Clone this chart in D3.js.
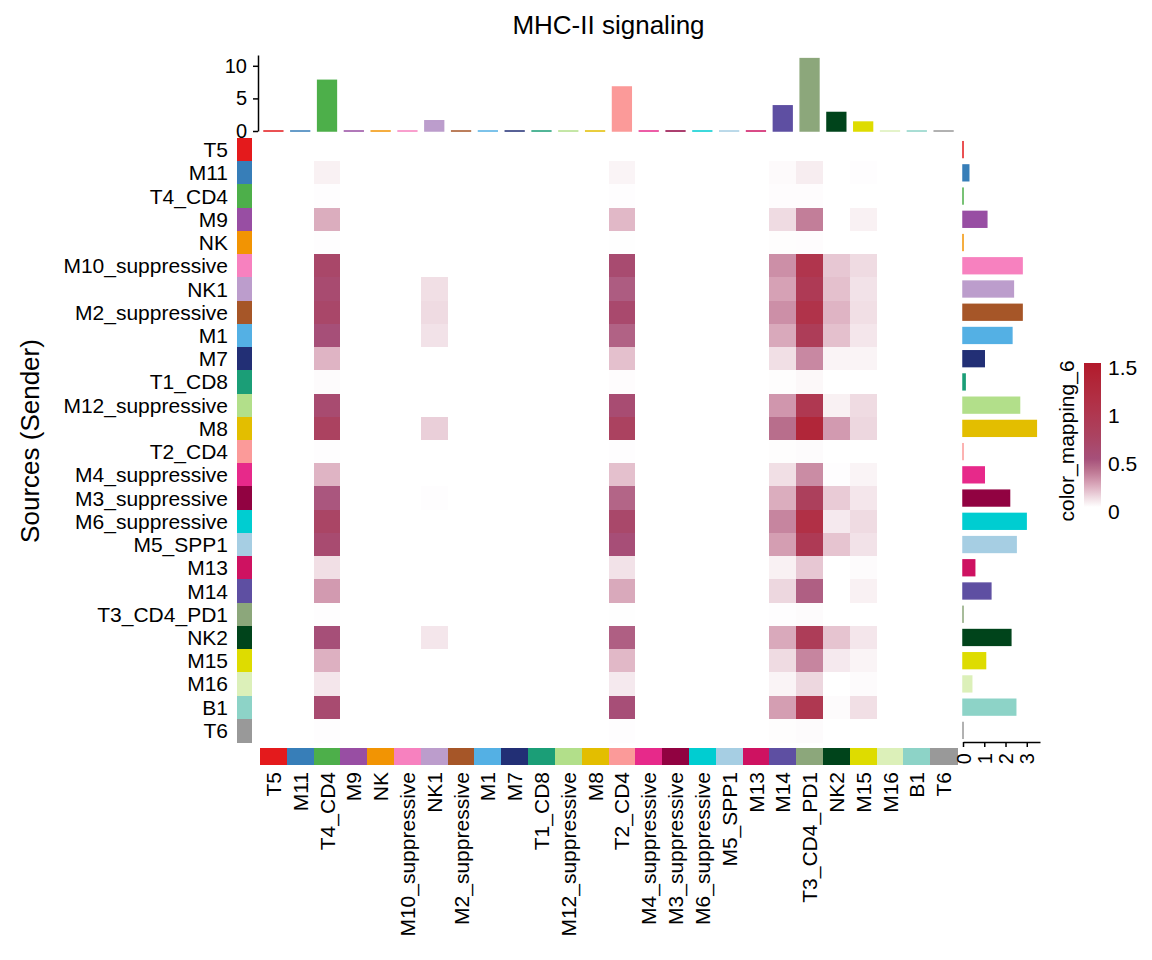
<!DOCTYPE html>
<html>
<head>
<meta charset="utf-8">
<script src="https://cdn.jsdelivr.net/npm/d3@7"></script>
<style>
  body { margin: 0; background: #fff; }
  text { font-family: "Liberation Sans", Arial, Helvetica, sans-serif; fill: #000; }
</style>
</head>
<body>
<div id="main"></div>
<script>
// cell groups, same order for senders (rows) and receivers (columns)
var cellTypes = ["T5", "M11", "T4_CD4", "M9", "NK", "M10_suppressive", "NK1", "M2_suppressive",
  "M1", "M7", "T1_CD8", "M12_suppressive", "M8", "T2_CD4", "M4_suppressive", "M3_suppressive",
  "M6_suppressive", "M5_SPP1", "M13", "M14", "T3_CD4_PD1", "NK2", "M15", "M16", "B1", "T6"];

var cellColors = ["#E41A1C", "#377EB8", "#4DAF4A", "#984EA3", "#F29403", "#F781BF", "#BC9DCC", "#A65628",
  "#54B0E4", "#222F75", "#1B9E77", "#B2DF8A", "#E3BE00", "#FB9A99", "#E7298A", "#910241",
  "#00CDD1", "#A6CEE3", "#CE1261", "#5E4FA2", "#8CA77B", "#00441B", "#DEDC00", "#DCF0B9", "#8DD3C7", "#999999"];

// only these receivers get any MHC-II signal, every other column is 0
var receivers = ["T4_CD4", "NK1", "T2_CD4", "M14", "T3_CD4_PD1", "NK2", "M15"];

// communication probability, one row per sender, columns follow `receivers`
var commProb = [
  [0, 0, 0, 0, 0, 0, 0],                              // T5
  [0.04, 0, 0.03, 0.015, 0.05, 0, 0.005],             // M11
  [0.005, 0, 0.005, 0.007, 0.008, 0, 0],              // T4_CD4
  [0.22, 0, 0.19, 0.10, 0.35, 0, 0.04],               // M9
  [0.005, 0, 0.004, 0.006, 0.008, 0, 0],              // NK
  [0.66, 0, 0.60, 0.30, 1.00, 0.15, 0.10],            // M10_suppressive
  [0.60, 0.09, 0.46, 0.25, 0.90, 0.17, 0.08],         // NK1
  [0.66, 0.10, 0.62, 0.30, 1.05, 0.20, 0.09],         // M2_suppressive
  [0.52, 0.08, 0.44, 0.23, 0.85, 0.17, 0.07],         // M1
  [0.20, 0, 0.17, 0.09, 0.32, 0.03, 0.03],            // M7
  [0.01, 0, 0.008, 0.006, 0.02, 0, 0],                // T1_CD8
  [0.60, 0, 0.58, 0.28, 0.95, 0.04, 0.10],            // M12_suppressive
  [0.75, 0.13, 0.75, 0.40, 1.30, 0.27, 0.11],         // M8
  [0.005, 0, 0.005, 0.006, 0.01, 0, 0],               // T2_CD4
  [0.20, 0, 0.17, 0.09, 0.31, 0.005, 0.03],           // M4_suppressive
  [0.48, 0.005, 0.43, 0.22, 0.80, 0.14, 0.07],        // M3_suppressive
  [0.70, 0, 0.65, 0.33, 1.10, 0.06, 0.10],            // M6_suppressive
  [0.60, 0, 0.53, 0.26, 0.90, 0.16, 0.08],            // M5_SPP1
  [0.09, 0, 0.08, 0.04, 0.15, 0, 0.01],               // M13
  [0.27, 0, 0.23, 0.11, 0.45, 0, 0.04],               // M14
  [0.005, 0, 0.004, 0.005, 0.01, 0, 0],               // T3_CD4_PD1
  [0.52, 0.07, 0.45, 0.23, 0.85, 0.16, 0.07],         // NK2
  [0.21, 0, 0.19, 0.10, 0.33, 0.06, 0.03],            // M15
  [0.07, 0, 0.06, 0.03, 0.11, 0, 0.01],               // M16
  [0.60, 0, 0.53, 0.26, 0.95, 0.01, 0.09],            // B1
  [0.005, 0, 0.005, 0.006, 0.01, 0, 0]                // T6
];

// incoming strength (top bars) and outgoing strength (right bars)
var incoming = [0, 0, 7.77, 0, 0, 0, 1.57, 0, 0, 0, 0, 0, 0, 6.75, 0, 0, 0, 0, 0, 3.86, 11.1, 2.84, 1.37, 0, 0, 0];
var outgoing = [0, 0.27, 0, 1.12, 0, 2.78, 2.37, 2.78, 2.30, 1.0, 0.1, 2.66, 3.45, 0, 1.0, 2.19, 2.97, 2.5, 0.55, 1.31, 0, 2.25, 1.06, 0.41, 2.48, 0];

var topTicks = [0, 5, 10];
var rightTicks = [0, 1, 2, 3];
var legendTicks = [0, 0.5, 1, 1.5];

var svg = d3.select("#main").append("svg")
    .attr("width", 1152)
    .attr("height", 960);

var x = d3.scaleBand().domain(cellTypes).range([260, 957]);
var y = d3.scaleBand().domain(cellTypes).range([138, 742]);
var colorOf = d3.scaleOrdinal().domain(cellTypes).range(cellColors);

var heat = d3.scaleLinear()
    .domain([0, 0.1, 0.2, 0.3, 0.4, 0.5, 0.75, 1.0, 1.5])
    .range(["#ffffff", "#efdbe2", "#dfb4c4", "#cc8fa7", "#b86e8c", "#a6507a", "#ab4260", "#b0354d", "#b2182b"])
    .interpolate(d3.interpolateLab)
    .clamp(true);

// flatten to cells
var cells = [];
cellTypes.forEach(function(src, i) {
  cellTypes.forEach(function(tgt) {
    var k = receivers.indexOf(tgt);
    cells.push({src: src, tgt: tgt, v: k < 0 ? 0 : commProb[i][k]});
  });
});

svg.append("g").selectAll("rect")
    .data(cells)
    .join("rect")
    .attr("x", function(d) { return x(d.tgt); })
    .attr("y", function(d) { return y(d.src); })
    .attr("width", x.bandwidth() + 0.5)
    .attr("height", y.bandwidth() + 0.5)
    .attr("fill", function(d) { return heat(d.v); })
    .attr("shape-rendering", "crispEdges");

// title
svg.append("text")
    .attr("x", (x.range()[0] + x.range()[1]) / 2)
    .attr("y", 34)
    .attr("text-anchor", "middle")
    .style("font-size", "26px")
    .text("MHC-II signaling");

// row colour annotation + labels
svg.append("g").selectAll("rect")
    .data(cellTypes)
    .join("rect")
    .attr("x", 237)
    .attr("y", function(d) { return y(d); })
    .attr("width", 15)
    .attr("height", y.bandwidth() + 0.5)
    .attr("fill", function(d) { return colorOf(d); })
    .attr("shape-rendering", "crispEdges");

svg.append("g").selectAll("text")
    .data(cellTypes)
    .join("text")
    .attr("x", 228)
    .attr("y", function(d) { return y(d) + y.bandwidth() / 2; })
    .attr("dy", "0.36em")
    .attr("text-anchor", "end")
    .style("font-size", "21px")
    .text(function(d) { return d; });

// column colour annotation + labels
svg.append("g").selectAll("rect")
    .data(cellTypes)
    .join("rect")
    .attr("x", function(d) { return x(d); })
    .attr("y", 748)
    .attr("width", x.bandwidth() + 0.5)
    .attr("height", 17)
    .attr("fill", function(d) { return colorOf(d); })
    .attr("shape-rendering", "crispEdges");

svg.append("g").selectAll("text")
    .data(cellTypes)
    .join("text")
    .attr("transform", function(d) { return "translate(" + (x(d) + x.bandwidth() / 2) + ",772) rotate(-90)"; })
    .attr("dy", "0.36em")
    .attr("text-anchor", "end")
    .style("font-size", "21px")
    .text(function(d) { return d; });

// top barplot (incoming)
var yTop = d3.scaleLinear().domain([0, d3.max(incoming) * 1.05]).range([131, 55]);
var barW = x.bandwidth() * 0.7;

svg.append("g").selectAll("rect")
    .data(cellTypes)
    .join("rect")
    .attr("x", function(d) { return x(d) + (x.bandwidth() - barW) / 2; })
    .attr("y", function(d, i) { return yTop(incoming[i]); })
    .attr("width", barW)
    .attr("height", function(d, i) { return Math.max(yTop(0) - yTop(incoming[i]), 0.01); })
    .attr("fill", function(d) { return colorOf(d); })
    .attr("stroke", function(d) { return colorOf(d); })
    .attr("stroke-width", 1.5);

var topAxis = svg.append("g")
    .attr("transform", "translate(258,0)")
    .call(d3.axisLeft(yTop).tickValues(topTicks).tickFormat(d3.format("d")).tickSize(5).tickSizeOuter(0).tickPadding(6));
topAxis.selectAll("text").style("font-size", "20px").style("font-family", "Liberation Sans, Arial, sans-serif");
topAxis.selectAll("line, path").attr("stroke", "#000").attr("stroke-width", 1.5);

// right barplot (outgoing)
var xR = d3.scaleLinear().domain([0, d3.max(outgoing) * 1.05]).range([963, 1040]);
var barH = y.bandwidth() * 0.68;

svg.append("g").selectAll("rect")
    .data(cellTypes)
    .join("rect")
    .attr("x", xR(0))
    .attr("y", function(d) { return y(d) + (y.bandwidth() - barH) / 2; })
    .attr("width", function(d, i) { return Math.max(xR(outgoing[i]) - xR(0), 0.01); })
    .attr("height", barH)
    .attr("fill", function(d) { return colorOf(d); })
    .attr("stroke", function(d) { return colorOf(d); })
    .attr("stroke-width", 1.5);

var rightAxis = svg.append("g")
    .attr("transform", "translate(0,742)")
    .call(d3.axisBottom(xR).tickValues(rightTicks).tickFormat(d3.format("d")).tickSize(5).tickSizeOuter(0));
rightAxis.selectAll("line, path").attr("stroke", "#000").attr("stroke-width", 1.5);
rightAxis.selectAll("text")
    .attr("transform", "translate(0,11) rotate(-90)")
    .attr("x", 0)
    .attr("y", 0)
    .attr("dy", "0.36em")
    .attr("text-anchor", "end")
    .style("font-size", "20px")
    .style("font-family", "Liberation Sans, Arial, sans-serif");

// y title
svg.append("text")
    .attr("transform", "translate(30,441) rotate(-90)")
    .attr("dy", "0.36em")
    .attr("text-anchor", "middle")
    .style("font-size", "26px")
    .text("Sources (Sender)");

// colour legend
var yLeg = d3.scaleLinear().domain([0, 1.5]).range([507, 363]);
var grad = svg.append("defs").append("linearGradient")
    .attr("id", "legGrad")
    .attr("x1", 0).attr("y1", 1).attr("x2", 0).attr("y2", 0);
d3.range(0, 1.5001, 0.05).forEach(function(v) {
  grad.append("stop").attr("offset", v / 1.5).attr("stop-color", heat(v));
});

svg.append("rect")
    .attr("x", 1084)
    .attr("y", yLeg(1.5))
    .attr("width", 17)
    .attr("height", yLeg(0) - yLeg(1.5))
    .attr("fill", "url(#legGrad)");

svg.append("g").selectAll("text")
    .data(legendTicks)
    .join("text")
    .attr("x", 1108)
    .attr("y", function(d) { return yLeg(d); })
    .attr("dy", "0.55em")
    .style("font-size", "21px")
    .text(function(d) { return d; });

svg.append("text")
    .attr("transform", "translate(1066,441) rotate(-90)")
    .attr("dy", "0.36em")
    .attr("text-anchor", "middle")
    .style("font-size", "21px")
    .text("color_mapping_6");
</script>
</body>
</html>
